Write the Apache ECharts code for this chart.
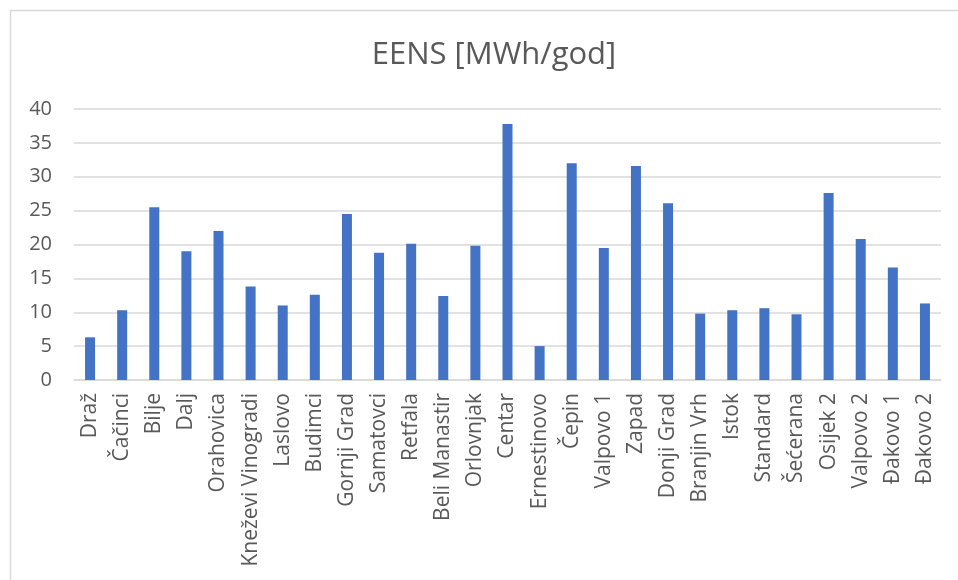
<!DOCTYPE html>
<html>
<head>
<meta charset="utf-8">
<script src="https://cdn.jsdelivr.net/npm/echarts@6/dist/echarts.min.js"></script>
<style>html,body{margin:0;padding:0;background:#fff;}#chart{width:958px;height:580px;}</style>
</head>
<body>
<div id="chart"></div>
<script>
const categories = ["Draž","Čačinci","Bilje","Dalj","Orahovica","Kneževi Vinogradi","Laslovo","Budimci","Gornji Grad","Samatovci","Retfala","Beli Manastir","Orlovnjak","Centar","Ernestinovo","Čepin","Valpovo 1","Zapad","Donji Grad","Branjin Vrh","Istok","Standard","Šećerana","Osijek 2","Valpovo 2","Đakovo 1","Đakovo 2"];
const eensValues = [6.3,10.3,25.5,19.0,22.0,13.8,11.0,12.6,24.5,18.8,20.1,12.4,19.8,37.8,5.0,32.0,19.5,31.6,26.1,9.8,10.3,10.6,9.7,27.6,20.8,16.6,11.3];
const yTicks = {min:0, max:40, interval:5};
const titleText = "EENS [MWh/god]";

const chart = echarts.init(document.getElementById('chart'), null, {renderer:'canvas'});
const font = "'Open Sans', sans-serif";
chart.setOption({
  animation:false,
  backgroundColor:'#ffffff',
  graphic:[{type:'rect', shape:{x:10.5,y:10.5,width:1200,height:1200}, style:{fill:'none', stroke:'#d9d9d9', lineWidth:1.5}, silent:true}],
  title:{text:titleText, left:489, textAlign:'center', top:35, textStyle:{fontFamily:font, fontSize:31, fontWeight:'normal', color:'#595959'}},
  grid:{left:74, right:17, top:109, bottom:200, containLabel:false},
  xAxis:{type:'category', data:categories,
    axisLine:{lineStyle:{color:'#d9d9d9', width:1.5}}, axisTick:{show:false},
    axisLabel:{rotate:90, interval:0, margin:13, fontFamily:font, fontSize:21, color:'#595959'}},
  yAxis:{type:'value', min:yTicks.min, max:yTicks.max, interval:yTicks.interval,
    axisLine:{show:false}, axisTick:{show:false},
    splitLine:{lineStyle:{color:'#d9d9d9', width:1.5}},
    axisLabel:{margin:22, fontFamily:font, fontSize:20, color:'#595959'}},
  series:[{type:'bar', data:eensValues, barWidth:10, itemStyle:{color:'#4472c4'}}]
});
</script>
</body>
</html>
